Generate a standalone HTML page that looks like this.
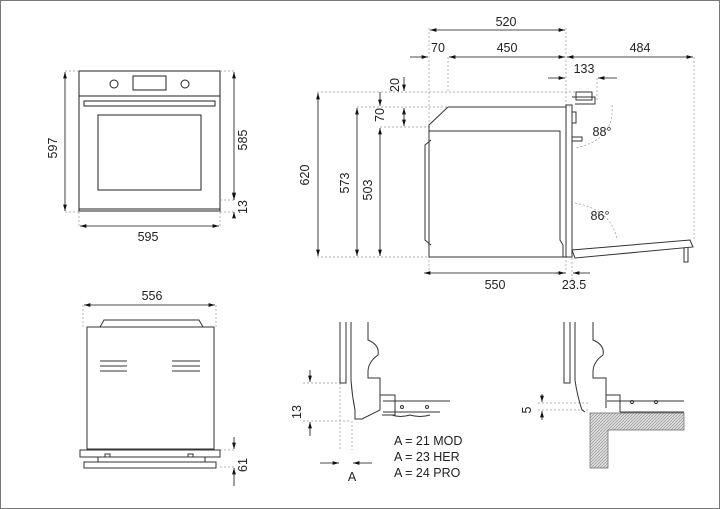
<!DOCTYPE html>
<html><head><meta charset="utf-8"><style>
html,body{margin:0;padding:0;background:#fff}
svg{display:block}
text{font-family:"Liberation Sans",sans-serif;fill:#222}
</style></head><body>
<svg width="720" height="509" viewBox="0 0 720 509" xmlns="http://www.w3.org/2000/svg">
<defs>
<marker id="a" viewBox="0 0 10 6" refX="10" refY="3" markerWidth="8" markerHeight="5" orient="auto-start-reverse"><path d="M0,0L10,3L0,6z" fill="#111"/></marker>
<pattern id="h" width="3" height="3" patternUnits="userSpaceOnUse"><rect width="3" height="3" fill="#ddd"/><path d="M0,3L3,0" stroke="#888" stroke-width="0.6"/></pattern>
</defs>
<rect x="0.5" y="0.5" width="719" height="508" fill="none" stroke="#777" stroke-width="1"/>
<g fill="none" stroke="#222" stroke-width="1">
<!-- front view -->
<rect x="79" y="71" width="141" height="140"/>
<line x1="79" y1="209" x2="220" y2="209"/>
<line x1="79" y1="96" x2="220" y2="96"/>
<circle cx="114" cy="84" r="4"/><circle cx="185" cy="84" r="4"/>
<rect x="133" y="76" width="33" height="14"/>
<rect x="84" y="101" width="131" height="5"/>
<rect x="98" y="115" width="103" height="75"/>
</g>
<g stroke="#999" stroke-width="0.7" stroke-dasharray="2,2" fill="none">
<path d="M65,71H79M65,212H79M220,71H236M220,200H236M220,212H236M79,212V226M220,212V226"/>
<!-- side -->
<path d="M429,28V272M566,28V272M448,57V92M694,57V240M597,78V100M317,92H580M357,107H570M380,127H429M317,257H429M572,258V280"/>
<path d="M612,105Q615,140 575,148M575,203Q612,210 617,240"/>
<path d="M83,305V327M216,305V327M220,450H236M220,467H236"/>
<path d="M303,383H340M303,421H350M340,383V450M352,421V450M538,403H590M538,410H590"/>
</g>
<g stroke="#111" stroke-width="0.8" fill="none">
<line x1="65" y1="72" x2="65" y2="211" marker-start="url(#a)" marker-end="url(#a)"/>
<line x1="234" y1="72" x2="234" y2="199" marker-start="url(#a)" marker-end="url(#a)"/>
<line x1="234" y1="218" x2="234" y2="212" marker-end="url(#a)"/>
<line x1="234" y1="193" x2="234" y2="200" marker-end="url(#a)"/>
<line x1="80" y1="226" x2="219" y2="226" marker-start="url(#a)" marker-end="url(#a)"/>
<line x1="430" y1="30" x2="565" y2="30" marker-start="url(#a)" marker-end="url(#a)"/>
<line x1="410" y1="57" x2="428" y2="57" marker-end="url(#a)"/>
<line x1="449" y1="57" x2="565" y2="57" marker-start="url(#a)" marker-end="url(#a)"/>
<line x1="567" y1="57" x2="693" y2="57" marker-start="url(#a)" marker-end="url(#a)"/>
<line x1="548" y1="78" x2="565" y2="78" marker-end="url(#a)"/>
<line x1="617" y1="78" x2="598" y2="78" marker-end="url(#a)"/>
<line x1="318" y1="93" x2="318" y2="256" marker-start="url(#a)" marker-end="url(#a)"/>
<line x1="357" y1="108" x2="357" y2="256" marker-start="url(#a)" marker-end="url(#a)"/>
<line x1="380" y1="128" x2="380" y2="256" marker-start="url(#a)" marker-end="url(#a)"/>
<line x1="404" y1="77" x2="404" y2="91" marker-end="url(#a)"/>
<line x1="380" y1="92" x2="380" y2="106" marker-end="url(#a)"/>
<line x1="404" y1="108" x2="404" y2="126" marker-start="url(#a)" marker-end="url(#a)"/>
<line x1="424" y1="273" x2="565" y2="273" marker-start="url(#a)" marker-end="url(#a)"/>
<line x1="556" y1="273" x2="566" y2="273"/>
<line x1="590" y1="273" x2="573" y2="273" marker-end="url(#a)"/>
<line x1="84" y1="305" x2="215" y2="305" marker-start="url(#a)" marker-end="url(#a)"/>
<line x1="234" y1="437" x2="234" y2="449" marker-end="url(#a)"/>
<line x1="234" y1="486" x2="234" y2="468" marker-end="url(#a)"/>
<line x1="310" y1="370" x2="310" y2="382" marker-end="url(#a)"/>
<line x1="310" y1="436" x2="310" y2="422" marker-end="url(#a)"/>
<line x1="320" y1="463" x2="339" y2="463" marker-end="url(#a)"/>
<line x1="372" y1="463" x2="353" y2="463" marker-end="url(#a)"/>
<line x1="542" y1="394" x2="542" y2="402" marker-end="url(#a)"/>
<line x1="542" y1="420" x2="542" y2="411" marker-end="url(#a)"/>
</g>
<g fill="none" stroke="#333" stroke-width="1">
<!-- side oven -->
<path d="M448,107H566M448,107L429,125V257H566"/>
<path d="M429,131H560V240L563,245V257M431,140L425,145V240L431,245"/>
<rect x="566" y="105" width="6" height="152"/>
<path d="M572,97H595V104H575"/><rect x="576" y="92" width="16" height="8"/>
<path d="M572,112H576V123H572M572,137H582V141H572"/>
<path d="M572,250L690,240L693,247L575,258Z"/>
<path d="M684,248V262H688V248"/>
<!-- bottom left -->
<rect x="87" y="327" width="127" height="122"/>
<path d="M100,327L104,320H199L203,327"/>
<path d="M100,361H127M100,366H127M100,371H127M172,361H200M172,366H200M172,371H200"/>
<rect x="80" y="450" width="140" height="7"/>
<rect x="84" y="462" width="132" height="6"/>
<path d="M98,457V462M205,457V462M105,457V454H110V457M188,457V454H193V457"/>
<!-- detail middle -->
<path d="M340,322V383H346V322M351,322V380Q352,395 355,410L355,419H362L380,410V378"/>
<path d="M368,322V340Q380,345 378,355Q368,362 368,372V378H380V408"/>
<path d="M380,395H395V415H382M383,401H450M383,412H440"/>
<circle cx="402" cy="407" r="1.5"/><circle cx="427" cy="407" r="1.5"/>
<path d="M392,415Q400,418 410,415Q420,418 430,415"/>
<!-- detail right -->
<path d="M564,322V383H570V322M575,322V380Q577,395 582,410L585,412"/>
<path d="M593,322V340Q605,345 603,355Q593,362 593,372V378H606V408"/>
<path d="M606,395H620V412M607,401H684M620,412H684"/>
<circle cx="632" cy="402" r="1.5"/><circle cx="656" cy="402" r="1.5"/>
</g>
<path d="M590,413H684V430H608V468H590Z" fill="url(#h)" stroke="#666" stroke-width="0.7"/>
<g font-size="12.5">
<text x="49" y="140" transform="rotate(-90 57 140)" text-anchor="middle">597</text>
<text x="243" y="144" transform="rotate(-90 243 140)" text-anchor="middle">585</text>
<text x="243" y="211" transform="rotate(-90 243 207)" text-anchor="middle">13</text>
<text x="148" y="241" text-anchor="middle">595</text>
<text x="506" y="26" text-anchor="middle">520</text>
<text x="438" y="52" text-anchor="middle">70</text>
<text x="507" y="52" text-anchor="middle">450</text>
<text x="640" y="52" text-anchor="middle">484</text>
<text x="584" y="73" text-anchor="middle">133</text>
<text x="305" y="179" transform="rotate(-90 305 175)" text-anchor="middle">620</text>
<text x="345" y="187" transform="rotate(-90 345 183)" text-anchor="middle">573</text>
<text x="368" y="194" transform="rotate(-90 368 190)" text-anchor="middle">503</text>
<text x="395" y="89" transform="rotate(-90 395 85)" text-anchor="middle">20</text>
<text x="380" y="119" transform="rotate(-90 380 115)" text-anchor="middle">70</text>
<text x="602" y="136" text-anchor="middle">88°</text>
<text x="600" y="220" text-anchor="middle">86°</text>
<text x="495" y="289" text-anchor="middle">550</text>
<text x="574" y="289" text-anchor="middle">23.5</text>
<text x="152" y="300" text-anchor="middle">556</text>
<text x="243" y="469" transform="rotate(-90 243 465)" text-anchor="middle">61</text>
<text x="297" y="416" transform="rotate(-90 297 412)" text-anchor="middle">13</text>
<text x="352" y="481" text-anchor="middle">A</text>
<text x="394" y="445">A = 21 MOD</text>
<text x="394" y="461">A = 23 HER</text>
<text x="394" y="477">A = 24 PRO</text>
<text x="527" y="414" transform="rotate(-90 527 410)" text-anchor="middle">5</text>
</g>
</svg>
</body></html>
